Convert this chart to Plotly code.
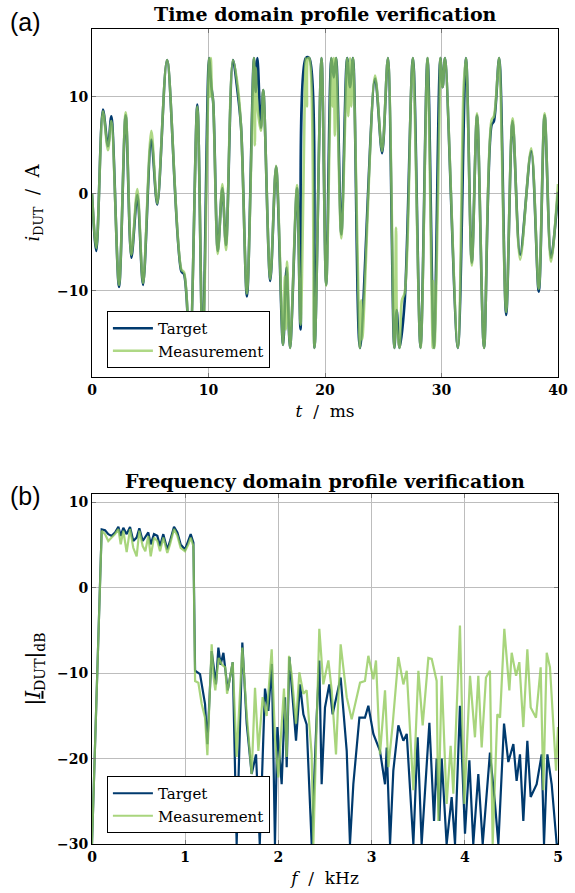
import plotly.graph_objects as go

# ---------------- time domain (ms, A) ----------------
t_target = [0, 0.37, 0.94, 1.37, 1.66, 2.32, 2.89, 3.38, 3.89, 4.38, 5.09, 5.6, 6.44, 7.67, 7.9,
            8.4, 9.04, 9.5, 10.05, 10.25, 10.4, 10.8, 11.19, 11.5, 12.1, 12.5, 12.8, 13.3,
            13.9, 14.05, 14.2, 14.5, 14.7, 15.3, 15.8, 16.4, 16.7, 17.0, 17.6, 17.9, 18.35,
            18.65, 19.1, 19.7, 20.1, 20.55, 20.75, 20.95, 21.4, 21.9, 22.15, 22.4, 23.0,
            24.3, 24.9, 25.4, 25.95, 26.15, 26.4, 26.84, 27.55, 28.2, 28.8, 29.35, 29.9,
            30.1, 30.3, 31.4, 32.1, 32.6, 33.05, 33.65, 34.3, 34.5, 34.95, 35.55, 36.1,
            36.75, 37.7, 38.35, 38.85, 39.4, 40]
i_target = [0, -5.9, 8.7, 4.9, 8.0, -9.6, 8.1, -6.6, -0.1, -9.4, 5.6, -1.1, 13.8, -8.0, -8.3,
            -16, 9.2, -16, 14, 11, 9.5, -5.9, 0.6, -5.3, 13.8, 10.5, 6.8, -10.6,
            14, 10.5, 14, 6.8, 10.7, -9.0, 2.8, -15.6, -7.6, -15.9, 0.6, -14, 14,
            14, -15.9, 14, -9.4, 14, 12, 14, -4.2, 14, 11, 14, -15.9,
            11.9, 4.2, 14, -15.9, -12, -15.9, -11.1, 14, -15.9, 14, -15.9, 14,
            11, 14, -15.9, 14, -7.1, 8.1, -15.9, 7.1, 7.5, 14, -12.5, 7.5,
            -6.3, 4.4, -10.1, 8.1, -6.6, 0.2]

t_meas = [0, 0.37, 0.94, 1.37, 1.66, 2.32, 2.89, 3.38, 3.89, 4.38, 5.09, 5.6, 6.44, 7.67, 7.9,
          8.4, 9.04, 9.5, 10.05, 10.12, 10.2, 10.3, 10.4, 10.8, 11.19, 11.5, 12.1, 12.5, 12.8, 13.3,
          13.9, 13.98, 14.05, 14.2, 14.5, 14.7, 15.3, 15.8, 16.4, 16.55, 16.65, 16.75, 17.0,
          17.6, 17.9, 18.35, 18.45, 18.55, 18.65, 19.1, 19.7, 20.1, 20.55, 20.65, 20.75,
          20.85, 20.95, 21.4, 21.9, 22.0, 22.15, 22.25, 22.4, 23.0, 23.1, 23.2, 24.3, 24.9,
          25.4, 25.95, 26.1, 26.2, 26.4, 26.6, 26.84, 27.4, 27.55, 28.2, 28.7, 28.8, 29.25,
          29.3, 29.4, 29.85, 29.9, 30.1, 30.3, 31.4, 31.9, 32.1, 32.6, 33.05, 33.65, 34.3,
          34.5, 34.8, 34.95, 35.55, 36.1, 36.75, 37.7, 38.35, 38.85, 39.4, 40]
i_meas = [0, -5.6, 8.5, 4.5, 7.5, -9.4, 8.4, -6.3, 0.5, -9.2, 6.5, -1.0, 13.8, -7.8, -8.1,
          -16, 9.0, -16, 14, 10, 14, 10.5, 9.5, -6.2, 1.0, -5.8, 13.8, 11.2, 6.8, -10.3,
          14, 5, 13, 9, 6.5, 10.7, -8.8, 2.9, -15.6, -8.5, -14, -7, -15.9,
          0.9, -13.5, 14, 9, 14, 14, -15.9, 14, -9.5, 14, 9, 14,
          6, 14, -4.6, 14, 8, 14, 9, 14, -15.9, -11, -15, 12.2, 4.4,
          14, -15.9, -3.5, -14, -15.9, -11, -10.2, 11, 14, -15.9, 11, 14, -15.9,
          -9, -15.9, 10, 14, 11, 14, -15.9, 11, 14, -7.4, 8.3, -15.9, 7.6,
          8, 12, 14, -12.2, 7.8, -6.8, 4.7, -9.8, 8.3, -7.0, 1.0]

# ---------------- frequency domain (kHz, dB) ----------------
f_target = [0.0, 0.104, 0.14, 0.175, 0.211, 0.247, 0.283, 0.308, 0.336, 0.372, 0.408, 0.443,
            0.479, 0.508, 0.544, 0.572, 0.604, 0.63, 0.665, 0.701, 0.73, 0.765, 0.808, 0.837,
            0.88, 0.916, 0.951, 0.998, 1.034, 1.059, 1.088, 1.106, 1.159, 1.213, 1.238, 1.284,
            1.33, 1.356, 1.38, 1.41, 1.456, 1.51, 1.552, 1.613, 1.66, 1.713, 1.76, 1.80, 1.856,
            1.892, 1.93, 1.963, 1.989, 2.035, 2.071, 2.089, 2.118, 2.189, 2.232, 2.268, 2.303,
            2.357, 2.41, 2.439, 2.464, 2.5, 2.546, 2.582, 2.668, 2.733, 2.768, 2.804, 2.869,
            2.929, 2.965, 3.019, 3.09, 3.144, 3.162, 3.198, 3.233, 3.287, 3.341, 3.377, 3.448,
            3.494, 3.537, 3.573, 3.62, 3.67, 3.698, 3.727, 3.752, 3.805, 3.859, 3.895, 3.948,
            4.002, 4.049, 4.091, 4.145, 4.192, 4.27, 4.324, 4.36, 4.421, 4.467, 4.521, 4.556,
            4.592, 4.628, 4.671, 4.707, 4.771, 4.825, 4.85, 4.886, 4.932, 4.986, 5.0]
db_target = [-30, 6.86, 6.75, 6.3, 6.1, 6.5, 7.15, 6.1, 7.05, 6.3, 7.15, 5.5,
             5.9, 6.98, 5.5, 5.9, 6.5, 5.1, 6.3, 6.1, 4.9, 6.3, 4.5, 5.5,
             7.15, 6.5, 5.1, 4.5, 5.5, 6.3, 5.3, -9.7, -10.1, -13.6, -18.3, -7.4,
             -11.3, -7.0, -9.0, -7.6, -12.0, -8.7, -30, -6.4, -15.9, -21.8, -19.5, -30, -11.8,
             -14.4, -8.9, -30, -16.3, -23, -12.8, -21, -8.1, -17.9, -11.3, -14.8, -16,
             -30, -15.2, -8.5, -23, -14, -11.3, -14.8, -10.5, -19.1, -30, -23, -15.2,
             -15.2, -13.8, -17.1, -19.1, -23, -18.7, -30, -21.4, -16.1, -17.9, -17.1, -30,
             -17.5, -30, -23.4, -15.8, -27.3, -20, -27.3, -20, -30, -24.5, -30, -13.8,
             -28.8, -20.2, -30, -21.8, -30, -19.3, -25.3, -30, -15.9, -20.4, -18.3, -22.6,
             -19.5, -27.3, -17.9, -24.5, -23, -19.5, -30, -19.5, -23, -30, -30]

f_meas = [0.0, 0.104, 0.14, 0.175, 0.211, 0.247, 0.283, 0.308, 0.336, 0.372, 0.408, 0.443,
          0.479, 0.508, 0.544, 0.572, 0.604, 0.63, 0.665, 0.701, 0.73, 0.765, 0.808, 0.837,
          0.88, 0.916, 0.951, 0.998, 1.034, 1.059, 1.088, 1.106, 1.141, 1.177, 1.213, 1.238,
          1.284, 1.305, 1.323, 1.359, 1.395, 1.43, 1.449, 1.51, 1.552, 1.613, 1.66, 1.713,
          1.749, 1.785, 1.831, 1.874, 1.928, 1.963, 1.999, 2.06, 2.089, 2.114, 2.142, 2.189,
          2.225, 2.268, 2.303, 2.357, 2.375, 2.439, 2.482, 2.536, 2.572, 2.618, 2.668, 2.733,
          2.786, 2.876, 2.929, 2.965, 3.019, 3.047, 3.09, 3.144, 3.18, 3.226, 3.287, 3.341,
          3.377, 3.448, 3.502, 3.548, 3.609, 3.645, 3.698, 3.716, 3.752, 3.805, 3.848, 3.877,
          3.948, 3.995, 4.056, 4.109, 4.145, 4.181, 4.227, 4.27, 4.299, 4.349, 4.378, 4.424,
          4.478, 4.503, 4.55, 4.585, 4.628, 4.671, 4.707, 4.764, 4.814, 4.843, 4.879, 4.914,
          4.979, 5.0]
db_meas = [-30, 6.7, 6.3, 5.5, 5.9, 6.3, 6.9, 5.1, 6.7, 4.2, 6.9, 4.7,
           3.7, 6.7, 4.9, 4.3, 6.1, 3.7, 5.9, 5.5, 4.3, 5.9, 4.1, 5.1,
           6.9, 6.1, 4.7, 4.3, 5.1, 5.9, 4.9, -10.9, -11.1, -13.6, -15.2, -19.6,
           -6.6, -10.5, -12.0, -8.2, -9.0, -9.3, -12.4, -8.7, -19.8, -7.0, -14.8, -21.8,
           -11.7, -19.1, -12.8, -15.0, -7.2, -17.5, -22.2, -11.8, -19.8, -7.95, -10.1, -15.9,
           -9.9, -12.4, -12.0, -19.5, -30, -4.8, -11.3, -8.5, -12.0, -19.5, -6.6, -12.8,
           -15.4, -11.1, -10.9, -7.95, -10.7, -8.5, -19.5, -12.0, -21, -16, -8.1, -11.3,
           -9.7, -23.7, -9.7, -16.1, -8.2, -8.3, -10.9, -27.3, -10.3, -25.3, -18.5, -24.1,
           -4.4, -25.3, -10.3, -17.5, -10.3, -18.7, -10.5, -9.7, -30, -14.8, -15.2, -4.8,
           -12.0, -7.6, -10.3, -8.7, -16.3, -7.2, -14.0, -15.2, -9.3, -23.7, -7.6, -9.3,
           -21.4, -16.3]

series_names = ["Target", "Measurement"]
time_ticks = [0, 10, 20, 30, 40]
curr_ticks = [-10, 0, 10]
freq_ticks = [0, 1, 2, 3, 4, 5]
db_ticks = [-30, -20, -10, 0, 10]

NAVY = "#003a6e"
GREEN = "#93cb5c"
SERIF = "DejaVu Serif"

fig = go.Figure()
fig.add_trace(go.Scatter(x=t_target, y=i_target, mode="lines", name=series_names[0],
                         line=dict(color=NAVY, width=2.6, shape="spline", smoothing=0.9),
                         xaxis="x", yaxis="y", legend="legend"))
fig.add_trace(go.Scatter(x=t_meas, y=i_meas, mode="lines", name=series_names[1], opacity=0.75,
                         line=dict(color=GREEN, width=2.6, shape="spline", smoothing=0.9),
                         xaxis="x", yaxis="y", legend="legend"))
fig.add_trace(go.Scatter(x=f_target, y=db_target, mode="lines", name=series_names[0],
                         line=dict(color=NAVY, width=2.2),
                         xaxis="x2", yaxis="y2", legend="legend2"))
fig.add_trace(go.Scatter(x=f_meas, y=db_meas, mode="lines", name=series_names[1], opacity=0.8,
                         line=dict(color=GREEN, width=2.2),
                         xaxis="x2", yaxis="y2", legend="legend2"))

axis_common = dict(showline=True, linecolor="black", linewidth=1, mirror="ticks",
                   ticks="inside", ticklen=4, tickcolor="#777", showgrid=True,
                   gridcolor="#bdbdbd", gridwidth=1, zeroline=False, automargin=False,
                   tickfont=dict(family=SERIF, size=14, color="black", weight="bold"))

legend_common = dict(bgcolor="white", bordercolor="black", borderwidth=1,
                     font=dict(family=SERIF, size=15, color="black"),
                     xanchor="left", yanchor="bottom", tracegroupgap=0,
                     itemwidth=40)

xtitle_font = dict(family=SERIF, size=17, color="black")
ytitle_font = dict(family=SERIF, size=18, color="black")

fig.update_layout(
    width=575, height=893,
    margin=dict(l=92, r=17, t=29, b=49, autoexpand=False),
    plot_bgcolor="white", paper_bgcolor="white",
    xaxis=dict(domain=[0, 1], range=[0, 40], tickvals=time_ticks, anchor="y",
               title=dict(text="<i>t</i>  /  ms", font=xtitle_font, standoff=8),
               **axis_common),
    yaxis=dict(domain=[0.573, 1], range=[-18.9, 17], tickvals=curr_ticks, anchor="x",
               title=dict(text="<i>i</i><sub>DUT</sub>  /  A", font=ytitle_font, standoff=12),
               **axis_common),
    xaxis2=dict(domain=[0, 1], range=[0, 5], tickvals=freq_ticks, anchor="y2",
                title=dict(text="<i>f</i>  /  kHz", font=xtitle_font, standoff=8),
                **axis_common),
    yaxis2=dict(domain=[0, 0.4294], range=[-30, 11], tickvals=db_ticks, anchor="x2",
                title=dict(text="|<u><i>I</i></u><sub>DUT</sub>|<sub>dB</sub>",
                           font=dict(family=SERIF, size=20, color="black"), standoff=10),
                **axis_common),
    legend=dict(x=0.032, y=0.584, **legend_common),
    legend2=dict(x=0.032, y=0.0135, **legend_common),
    annotations=[
        dict(text="<b>Time domain profile verification</b>", xref="paper", yref="paper",
             x=0.5, y=1.018, xanchor="center", yanchor="middle", showarrow=False,
             font=dict(family=SERIF, size=19, color="black")),
        dict(text="<b>Frequency domain profile verification</b>", xref="paper", yref="paper",
             x=0.5, y=0.445, xanchor="center", yanchor="middle", showarrow=False,
             font=dict(family=SERIF, size=19, color="black")),
        dict(text="(a)", xref="paper", yref="paper", x=-0.142, y=1.0086,
             xanchor="center", yanchor="middle", showarrow=False,
             font=dict(family="Liberation Sans", size=25, color="black")),
        dict(text="(b)", xref="paper", yref="paper", x=-0.142, y=0.427,
             xanchor="center", yanchor="middle", showarrow=False,
             font=dict(family="Liberation Sans", size=25, color="black")),
    ],
)

fig.write_html("out.html")
